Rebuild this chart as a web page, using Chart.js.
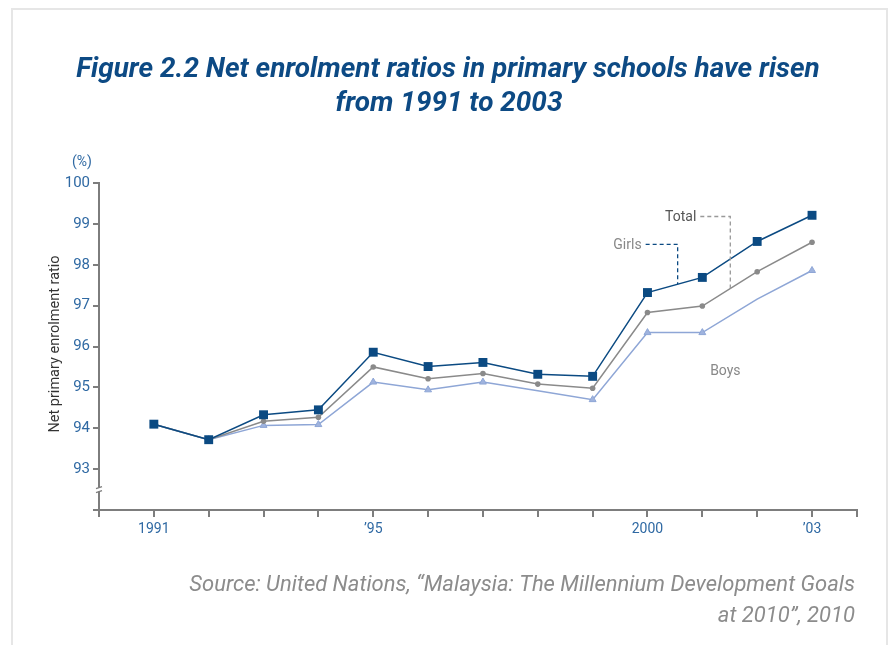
<!DOCTYPE html>
<html>
<head>
<meta charset="utf-8">
<script src="https://cdn.jsdelivr.net/npm/chart.js@4.4.0/dist/chart.umd.min.js"></script>
<style>
    html, body { margin: 0; padding: 0; background: #fff; }
    #frame {
        position: absolute; left: 11px; top: 8px; width: 873px; height: 660px;
        border: 2px solid #e6e6e6; border-bottom: none;
    }
    #wrap { position: absolute; left: 0; top: 0; width: 890px; height: 645px; }
</style>
</head>
<body>
<div id="frame"></div>
<div id="wrap"><canvas id="chart" width="890" height="645"></canvas></div>
<script>
// ======================= Data =======================
const years = [1991, 1992, 1993, 1994, 1995, 1996, 1997, 1998, 1999, 2000, 2001, 2002, 2003];
const girls = [94.1, 93.72, 94.33, 94.45, 95.86, 95.51, 95.61, 95.32, 95.27, 97.32, 97.69, 98.57, 99.21];
const total = [94.1, 93.72, 94.17, 94.27, 95.50, 95.21, 95.34, 95.08, 94.98, 96.83, 96.99, 97.83, 98.55];
const boys  = [94.1, 93.72, 94.07, 94.09, 95.13, 94.94, 95.13, 94.92, 94.70, 96.34, 96.34, 97.16, 97.86];
const boysMarked = [true, true, true, true, true, true, true, false, true, true, true, false, true];

const xLabels = { 1991: "1991", 1995: "\u201995", 2000: "2000", 2003: "\u201903" };
const yTicks = [93, 94, 95, 96, 97, 98, 99, 100];

const titleLines = ["Figure 2.2 Net enrolment ratios in primary schools have risen", "from 1991 to 2003"];
const sourceLines = ["Source: United Nations, \u201cMalaysia: The Millennium Development Goals", "at 2010\u201d, 2010"];

const DARK = "#0b4a82";
const GREY = "#8a8a8a";
const LIGHT = "#8ea6d6";
const TICK_BLUE = "#2f69a3";
const AXIS = "#7d7d7d";

const toPoints = arr => arr.map((v, i) => ({ x: years[i], y: v }));

// ======================= Extra drawing =======================
const decorations = {
    id: "decorations",
    afterDraw(chart) {
        const ctx = chart.ctx;
        const xs = chart.scales.x;
        const ys = chart.scales.y;
        ctx.save();

        // title, fitted to the reference width
        ctx.fillStyle = "#0d4a84";
        ctx.textAlign = "center";
        ctx.textBaseline = "middle";
        let size = 24;
        ctx.font = `italic bold ${size}px Roboto`;
        const w = ctx.measureText(titleLines[0]).width;
        size = size * 744 / w;
        ctx.font = `italic bold ${size}px Roboto`;
        ctx.fillText(titleLines[0], 448, 70);
        ctx.fillText(titleLines[1], 449, 104);

        // source
        ctx.fillStyle = "#8c8c8c";
        ctx.textAlign = "right";
        let ss = 20;
        ctx.font = `italic ${ss}px Roboto`;
        const sw = ctx.measureText(sourceLines[0]).width;
        ss = ss * 666 / sw;
        ctx.font = `italic ${ss}px Roboto`;
        ctx.fillText(sourceLines[0], 855, 585);
        ctx.fillText(sourceLines[1], 855, 616);

        // y axis title and unit
        ctx.fillStyle = "#333";
        ctx.textAlign = "center";
        ctx.font = "14.5px Roboto";
        ctx.save();
        ctx.translate(55, 344);
        ctx.rotate(-Math.PI / 2);
        ctx.fillText("Net primary enrolment ratio", 0, 0);
        ctx.restore();
        ctx.fillStyle = TICK_BLUE;
        ctx.font = "14px Roboto";
        ctx.fillText("(%)", 82, ys.top - 21);

        // axis break
        const bx = xs.left;
        const by = ys.getPixelForValue(92.5);
        ctx.fillStyle = "#fff";
        ctx.fillRect(bx - 4, by - 2, 8, 4);
        ctx.strokeStyle = AXIS;
        ctx.lineWidth = 1.3;
        ctx.beginPath();
        ctx.moveTo(bx - 3, by - 1); ctx.lineTo(bx + 3, by - 3);
        ctx.moveTo(bx - 3, by + 3); ctx.lineTo(bx + 3, by + 1);
        ctx.stroke();

        // leader lines
        const interp = (arr, yr) => {
            const i = Math.floor(yr) - years[0];
            const f = yr - Math.floor(yr);
            return arr[i] + (arr[i + 1] - arr[i]) * f;
        };
        ctx.setLineDash([4, 3]);
        ctx.lineWidth = 1.3;

        const tx = xs.getPixelForValue(2001.51);
        const ty = ys.getPixelForValue(99.18);
        ctx.strokeStyle = "#999";
        ctx.beginPath();
        ctx.moveTo(tx - 30, ty);
        ctx.lineTo(tx, ty);
        ctx.lineTo(tx, ys.getPixelForValue(interp(total, 2001.51)));
        ctx.stroke();

        const gx = xs.getPixelForValue(2000.55);
        const gy = ys.getPixelForValue(98.5);
        ctx.strokeStyle = DARK;
        ctx.beginPath();
        ctx.moveTo(gx - 32, gy);
        ctx.lineTo(gx, gy);
        ctx.lineTo(gx, ys.getPixelForValue(interp(girls, 2000.55)));
        ctx.stroke();
        ctx.setLineDash([]);

        ctx.font = "14px Roboto";
        ctx.textAlign = "right";
        ctx.fillStyle = "#555";
        ctx.fillText("Total", tx - 34, ty + 1);
        ctx.fillStyle = "#888";
        ctx.fillText("Girls", gx - 36, gy + 1);
        ctx.textAlign = "center";
        ctx.fillText("Boys", xs.getPixelForValue(2001.42), ys.getPixelForValue(95.39));

        ctx.restore();
    }
};

// ======================= Chart =======================
new Chart(document.getElementById("chart"), {
    type: "line",
    data: {
        datasets: [
            {
                label: "Girls",
                data: toPoints(girls),
                borderColor: DARK,
                backgroundColor: DARK,
                borderWidth: 1.5,
                pointStyle: "rect",
                pointRadius: 6.3,
                pointBorderWidth: 0
            },
            {
                label: "Total",
                data: toPoints(total),
                borderColor: GREY,
                backgroundColor: GREY,
                borderWidth: 1.5,
                pointStyle: "circle",
                pointRadius: 2.8,
                pointBorderWidth: 0
            },
            {
                label: "Boys",
                data: toPoints(boys),
                borderColor: LIGHT,
                backgroundColor: "#9fb3de",
                borderWidth: 1.5,
                pointStyle: "triangle",
                pointRadius: boysMarked.map(m => m ? 4 : 0),
                pointBorderWidth: 1
            }
        ]
    },
    options: {
        responsive: false,
        animation: false,
        layout: { padding: { top: 183, right: 33, left: 0, bottom: 0 } },
        plugins: {
            legend: { display: false },
            tooltip: { enabled: false }
        },
        elements: { line: { tension: 0 } },
        scales: {
            x: {
                type: "linear",
                min: 1990,
                max: 2003.82,
                afterFit: scale => { scale.height = 135; },
                afterBuildTicks: scale => {
                    scale.ticks = [1990, ...years, 2003.82].map(v => ({ value: v }));
                },
                grid: { drawOnChartArea: false, drawTicks: true, tickLength: 7, color: AXIS, lineWidth: 2 },
                border: { color: AXIS, width: 2 },
                ticks: {
                    autoSkip: false,
                    maxRotation: 0,
                    padding: 4,
                    color: TICK_BLUE,
                    font: { family: "Roboto", size: 14 },
                    callback: v => xLabels[v] || ""
                }
            },
            y: {
                min: 92,
                max: 100,
                afterFit: scale => { scale.width = 99; },
                afterBuildTicks: scale => {
                    scale.ticks = [92, ...yTicks].map(v => ({ value: v }));
                },
                grid: { drawOnChartArea: false, drawTicks: true, tickLength: 6, color: AXIS, lineWidth: 2 },
                border: { color: AXIS, width: 2 },
                ticks: {
                    padding: 3,
                    color: TICK_BLUE,
                    font: { family: "Roboto", size: 15 },
                    callback: v => (v === 92 ? "" : v)
                }
            }
        }
    },
    plugins: [decorations]
});
</script>
</body>
</html>
